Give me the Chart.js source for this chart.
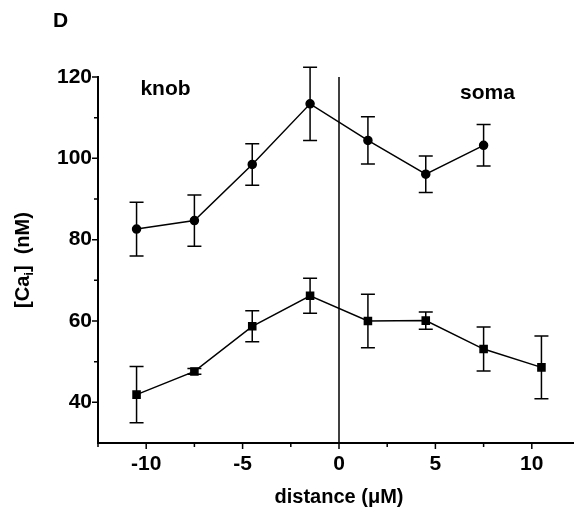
<!DOCTYPE html>
<html>
<head>
<meta charset="utf-8">
<script src="https://cdn.jsdelivr.net/npm/chart.js@4/dist/chart.umd.min.js"></script>
<style>
  html, body { margin: 0; padding: 0; background: #fff; overflow: hidden; }
  #wrap { width: 580px; height: 517px; }
</style>
</head>
<body>
<div id="wrap"><canvas id="c"></canvas></div>
<script>
// ---- data ----
const distances = [-10.5, -7.5, -4.5, -1.5, 1.5, 4.5, 7.5, 10.5];
const upperValues = [82.6, 84.7, 98.5, 113.4, 104.4, 96.1, 103.2];
const upperErrors = [6.6, 6.3, 5.1, 9.0, 5.8, 4.5, 5.1];
const lowerValues = [41.9, 47.6, 58.7, 66.2, 60.0, 60.1, 53.1, 48.6];
const lowerErrors = [6.9, 0.7, 3.8, 4.3, 6.6, 2.1, 5.4, 7.7];
const xMajorTicks = [-10, -5, 0, 5, 10];
const xMinorTicks = [-7.5, -2.5, 2.5, 7.5];
const yMajorTicks = [40, 60, 80, 100, 120];
const yMinorTicks = [50, 70, 90, 110];
const regionLabels = ['knob', 'soma'];
const regionLabelAt = [[-9.0, 115.6], [7.7, 114.6]];
const panelLetter = 'D';
const xTitle = 'distance (\u03BCM)';

const FONT = "'Liberation Sans', Arial, sans-serif";

function pts(vals) { return vals.map((v, i) => ({ x: distances[i], y: v })); }

const extras = {
  id: 'extras',
  afterDatasetsDraw(chart) {
    const ctx = chart.ctx;
    const xs = chart.scales.x, ys = chart.scales.y;
    ctx.save();
    ctx.strokeStyle = '#000';
    ctx.lineWidth = 1.5;
    // error bars
    chart.data.datasets.forEach(ds => {
      if (!ds.errors) return;
      ds.data.forEach((p, i) => {
        const e = ds.errors[i];
        const px = xs.getPixelForValue(p.x);
        const yt = ys.getPixelForValue(p.y + e);
        const yb = ys.getPixelForValue(p.y - e);
        ctx.beginPath();
        ctx.moveTo(px, yt); ctx.lineTo(px, yb);
        ctx.moveTo(px - 7, yt); ctx.lineTo(px + 7, yt);
        ctx.moveTo(px - 7, yb); ctx.lineTo(px + 7, yb);
        ctx.stroke();
      });
    });
    // tick marks
    ctx.lineWidth = 1.5;
    const ca = chart.chartArea;
    ctx.beginPath();
    xMajorTicks.forEach(v => { const p = xs.getPixelForValue(v); ctx.moveTo(p, ca.bottom); ctx.lineTo(p, ca.bottom + 6); });
    xMinorTicks.forEach(v => { const p = xs.getPixelForValue(v); ctx.moveTo(p, ca.bottom); ctx.lineTo(p, ca.bottom + 4); });
    yMajorTicks.forEach(v => { const p = ys.getPixelForValue(v); ctx.moveTo(ca.left, p); ctx.lineTo(ca.left - 6, p); });
    yMinorTicks.forEach(v => { const p = ys.getPixelForValue(v); ctx.moveTo(ca.left, p); ctx.lineTo(ca.left - 4, p); });
    ctx.moveTo(ca.left, ca.bottom); ctx.lineTo(ca.left, ca.bottom + 4);
    ctx.stroke();
    // region labels
    ctx.fillStyle = '#000';
    ctx.font = 'bold 21px ' + FONT;
    ctx.textAlign = 'center';
    ctx.textBaseline = 'alphabetic';
    regionLabels.forEach((t, i) => {
      ctx.fillText(t, xs.getPixelForValue(regionLabelAt[i][0]), ys.getPixelForValue(regionLabelAt[i][1]));
    });
    // panel letter
    ctx.textAlign = 'left';
    ctx.fillText(panelLetter, 53, 27);
    // y axis title with subscript
    ctx.translate(29, (ca.top + ca.bottom) / 2);
    ctx.rotate(-Math.PI / 2);
    const big = 'bold 20px ' + FONT, small = 'bold 13px ' + FONT;
    const parts = [['[Ca', big, 0], ['i', small, 4], [']  (nM)', big, 0]];
    let total = 0;
    parts.forEach(p => { ctx.font = p[1]; total += ctx.measureText(p[0]).width; });
    let x = -total / 2;
    parts.forEach(p => { ctx.font = p[1]; ctx.fillText(p[0], x, p[2]); x += ctx.measureText(p[0]).width; });
    ctx.restore();
  }
};

new Chart(document.getElementById('c'), {
  type: 'scatter',
  data: {
    datasets: [
      {
        data: [{ x: 0, y: 30 }, { x: 0, y: 120 }],
        showLine: true, borderColor: '#000', borderWidth: 1.5, pointRadius: 0
      },
      {
        data: pts(upperValues), errors: upperErrors,
        showLine: true, borderColor: '#000', borderWidth: 1.5,
        pointStyle: 'circle', pointRadius: 4, pointBackgroundColor: '#000', pointBorderColor: '#000'
      },
      {
        data: pts(lowerValues), errors: lowerErrors,
        showLine: true, borderColor: '#000', borderWidth: 1.5,
        pointStyle: 'rect', pointRadius: 5, pointBackgroundColor: '#000', pointBorderColor: '#000'
      }
    ]
  },
  options: {
    responsive: true,
    maintainAspectRatio: false,
    animation: false,
    layout: { padding: { top: 77, left: 0, right: 0, bottom: 0 }, autoPadding: false },
    plugins: { legend: { display: false }, tooltip: { enabled: false } },
    scales: {
      x: {
        type: 'linear', min: -12.5, max: 12.5,
        afterBuildTicks: s => { s.ticks = xMajorTicks.map(v => ({ value: v })); },
        afterFit: s => { s.height = 74; },
        grid: { display: false, drawTicks: false },
        border: { display: true, color: '#000', width: 2 },
        ticks: { color: '#000', padding: 9, font: { family: FONT, size: 21, weight: 'bold' } },
        title: { display: true, text: xTitle, color: '#000', padding: { top: 0, bottom: 8 }, font: { family: FONT, size: 20, weight: 'bold' } }
      },
      y: {
        type: 'linear', min: 30, max: 120,
        afterBuildTicks: s => { s.ticks = yMajorTicks.map(v => ({ value: v })); },
        afterFit: s => { s.width = 98; },
        grid: { display: false, drawTicks: false },
        border: { display: true, color: '#000', width: 2 },
        ticks: { color: '#000', padding: 6, font: { family: FONT, size: 21, weight: 'bold' } }
      }
    }
  },
  plugins: [extras]
});
</script>
</body>
</html>
